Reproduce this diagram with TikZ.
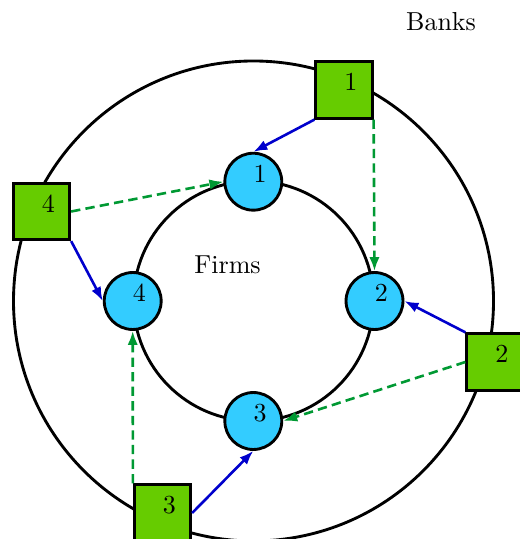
\documentclass[tikz,border=0pt]{standalone}
\usetikzlibrary{arrows.meta}
\definecolor{bankgreen}{RGB}{102,204,0}
\definecolor{firmcyan}{RGB}{51,204,255}
\definecolor{loanblue}{RGB}{0,0,204}
\definecolor{linkgreen}{RGB}{0,153,51}
\begin{document}
\begin{tikzpicture}[x=0.3846pt,y=-0.3846pt,
  ring/.style={line width=1.1pt},
  bank/.style={draw,line width=1.1pt,fill=bankgreen,minimum size=21.7pt,inner sep=0pt},
  firm/.style={draw,circle,line width=1.1pt,fill=firmcyan,minimum size=21.9pt,inner sep=0pt},
  tag/.style={label={[shift={(2.6pt,3.1pt)}]center:#1}},
  loan/.style={draw=loanblue,line width=1pt,-{Latex[length=5.4pt,width=4pt]}},
  link/.style={draw=linkgreen,line width=1pt,dash pattern=on 3.6pt off 2pt,-{Latex[length=5.4pt,width=4pt]}}]
\useasboundingbox (0,0) rectangle (519,539);
\coordinate (o) at (253.5,301);
% the two rings
\draw[ring] (o) circle[radius=240];
\draw[ring] (o) circle[radius=120];
% firms on the inner ring
\node[firm,tag=1] (f1) at (253.3,181.7) {};
\node[firm,tag=2] (f2) at (374.5,301) {};
\node[firm,tag=3] (f3) at (253.3,421) {};
\node[firm,tag=4] (f4) at (132.7,301) {};
% banks on the outer ring
\node[bank,tag=1] (b1) at (344,90) {};
\node[bank,tag=2] (b2) at (495,362) {};
\node[bank,tag=3] (b3) at (162.5,513) {};
\node[bank,tag=4] (b4) at (41.5,211.5) {};
% ring titles
\node (banks) at (441,22) {Banks};
\node (firms) at (227.5,265) {Firms};
% lending links
\draw[loan] (b1.south west) -- (f1.north);
\draw[link] (b1.south east) -- (f2.north);
\draw[loan] (b2.north west) -- (f2.east);
\draw[link] (b2.west) -- (f3.east);
\draw[loan] (b3.east) -- (f3.south);
\draw[link] (b3.north west) -- (f4.south);
\draw[loan] (b4.south east) -- (f4.west);
\draw[link] (b4.east) -- (f1.west);
\end{tikzpicture}
\end{document}
